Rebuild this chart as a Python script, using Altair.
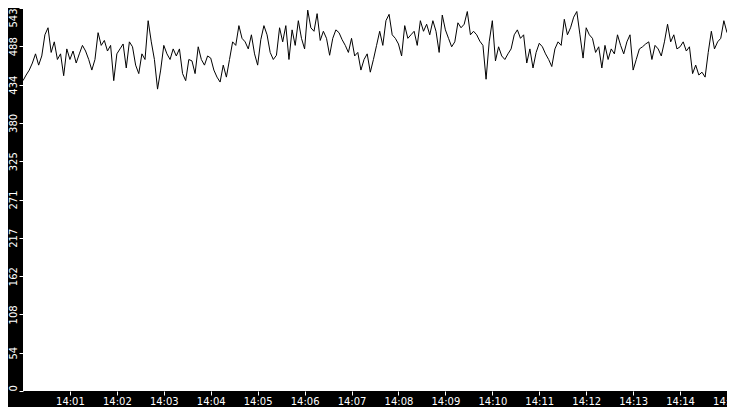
import altair as alt
import pandas as pd

# values sampled every 4 seconds from 14:00:00 to 14:15:00
values = [
    # 14:00:00 - 14:01:40
    440, 448, 455, 465, 478, 462, 475, 505, 515, 480, 495, 470, 478, 447, 485, 470, 482, 465, 478, 490, 482, 470, 455, 470, 508,
    # 14:01:40 - 14:03:20
    490, 497, 482, 490, 440, 478, 485, 492, 458, 495, 488, 462, 450, 478, 470, 525, 495, 470, 428, 455, 490, 478, 470, 485, 475,
    # 14:03:20 - 14:05:00
    485, 450, 440, 470, 468, 450, 488, 470, 462, 475, 472, 455, 445, 438, 462, 445, 470, 495, 490, 518, 500, 495, 485, 505, 478,
    # 14:05:00 - 14:06:40
    462, 498, 518, 505, 480, 470, 476, 515, 495, 518, 470, 512, 490, 525, 500, 485, 540, 515, 510, 535, 497, 510, 500, 476, 500,
    # 14:06:40 - 14:08:20
    512, 508, 498, 490, 480, 500, 475, 480, 455, 470, 478, 452, 470, 490, 510, 490, 525, 534, 505, 500, 492, 475, 518, 500, 505,
    # 14:08:20 - 14:10:00
    510, 490, 525, 510, 520, 505, 525, 510, 480, 533, 512, 500, 488, 495, 522, 515, 520, 538, 505, 510, 505, 496, 490, 442, 495,
    # 14:10:00 - 14:11:40
    525, 468, 488, 475, 470, 478, 485, 505, 512, 500, 505, 465, 485, 458, 480, 493, 488, 478, 470, 460, 485, 495, 490, 527, 505,
    # 14:11:40 - 14:13:20
    515, 530, 538, 505, 472, 515, 505, 500, 480, 488, 458, 490, 470, 485, 478, 505, 490, 478, 495, 505, 455, 470, 485, 488, 492,
    # 14:13:20 - 14:15:00
    495, 470, 490, 485, 475, 495, 520, 495, 505, 485, 488, 495, 482, 488, 450, 462, 448, 452, 445, 480, 510, 485, 495, 500, 525,
    508,
]

start = pd.Timestamp("2024-01-01 14:00:00")
times = [(start + pd.Timedelta(seconds=4 * i)).strftime("%Y-%m-%dT%H:%M:%S") for i in range(len(values))]

y_ticks = [0, 54.3, 108.6, 162.9, 217.2, 271.5, 325.8, 380.1, 434.4, 488.7, 543]
x_ticks = [alt.DateTime(year=2024, month=1, date=1, hours=14, minutes=m) for m in range(1, 16)]

df = pd.DataFrame({"t": times, "v": values})

FONT = "DejaVu Sans"

chart = (
    alt.Chart(df)
    .mark_line(color="black", strokeWidth=1, interpolate="linear")
    .encode(
        x=alt.X(
            "t:T",
            title=None,
            scale=alt.Scale(
                domain=[
                    alt.DateTime(year=2024, month=1, date=1, hours=14, minutes=0),
                    alt.DateTime(year=2024, month=1, date=1, hours=14, minutes=15),
                ],
                nice=False,
            ),
            axis=alt.Axis(
                values=x_ticks,
                format="%H:%M",
                grid=False,
                domain=False,
                tickColor="white",
                tickSize=4,
                labelPadding=1,
                labelColor="white",
                labelFont=FONT,
                labelFontSize=10,
                labelFlush=False,
                labelOverlap=False,
            ),
        ),
        y=alt.Y(
            "v:Q",
            title=None,
            scale=alt.Scale(domain=[0, 543], nice=False, zero=True),
            axis=alt.Axis(
                values=y_ticks,
                labelExpr="floor(datum.value)",
                grid=False,
                domain=False,
                tickColor="white",
                tickSize=4,
                labelPadding=1,
                labelColor="white",
                labelFont=FONT,
                labelFontSize=10,
                labelAngle=270,
                labelAlign={"expr": "datum.value <= 0 ? 'left' : (datum.value >= 543 ? 'right' : 'center')"},
                labelBaseline="bottom",
                labelFlush=False,
                labelOverlap=False,
            ),
        ),
    )
    .properties(
        width=704,
        height=383,
        autosize=alt.AutoSizeParams(type="none"),
        padding={"left": 15, "top": 0, "right": 0, "bottom": 16},
        background="black",
    )
    .configure_view(fill="white", strokeWidth=0)
)

chart.save("out.html", embed_options={"renderer": "svg", "actions": False})
